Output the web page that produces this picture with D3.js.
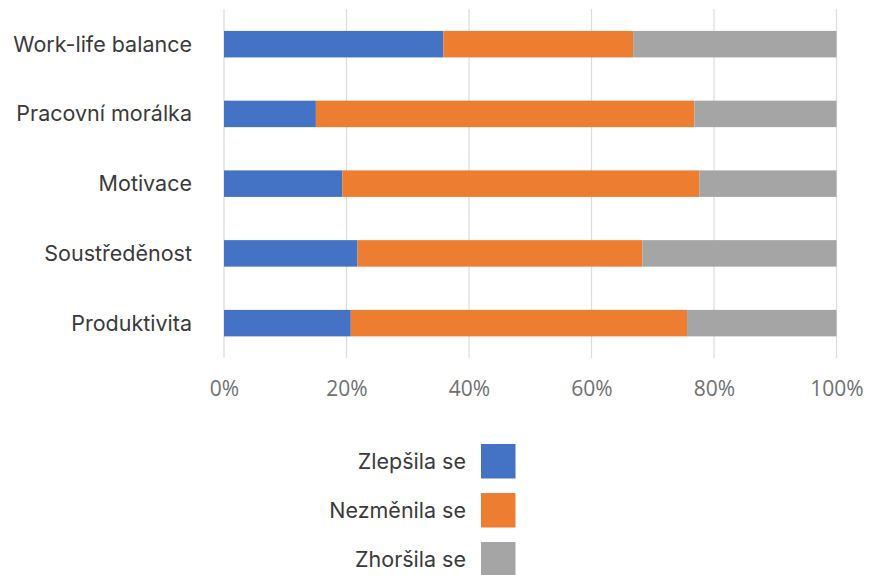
<!DOCTYPE html>
<html>
<head>
<meta charset="utf-8">
<script src="https://cdn.jsdelivr.net/npm/d3@7"></script>
<style>
  html, body { margin: 0; padding: 0; background: #fff; }
  svg { display: block; }
</style>
</head>
<body>
<svg id="chart" width="869" height="575"></svg>
<script>
// Categories, top to bottom
const categories = ["Work-life balance", "Pracovní morálka", "Motivace", "Soustředěnost", "Produktivita"];
// Series (percent of respondents)
const seriesNames = ["Zlepšila se", "Nezměnila se", "Zhoršila se"];
const improved  = [35.8, 15.0, 19.3, 21.8, 20.7];
const unchanged = [31.0, 61.8, 58.3, 46.5, 54.9];
const worsened  = [33.2, 23.2, 22.4, 31.7, 24.4];
const seriesColors = ["#4472C4", "#ED7D31", "#A5A5A5"];
const tickValues = [0, 20, 40, 60, 80, 100];

const svg = d3.select("#chart");

const x = d3.scaleLinear().domain([0, 100]).range([224, 836.5]);
const y = d3.scaleBand().domain(categories).range([9.3, 358]).paddingInner(0.62).paddingOuter(0.31);

// Vertical gridlines
svg.append("g").selectAll("line").data(tickValues).join("line")
  .attr("x1", d => x(d)).attr("x2", d => x(d))
  .attr("y1", 9).attr("y2", 358)
  .attr("stroke", "#dcdcdc").attr("stroke-width", 1.2);

// Stacked bars
const rows = categories.map((c, i) => ({ cat: c, "Zlepšila se": improved[i], "Nezměnila se": unchanged[i], "Zhoršila se": worsened[i] }));
const stacked = d3.stack().keys(seriesNames)(rows);
const color = d3.scaleOrdinal().domain(seriesNames).range(seriesColors);

svg.append("g").selectAll("g").data(stacked).join("g")
  .attr("fill", d => color(d.key))
  .selectAll("rect").data(d => d).join("rect")
  .attr("x", d => x(d[0]))
  .attr("width", d => x(d[1]) - x(d[0]))
  .attr("y", d => y(d.data.cat))
  .attr("height", y.bandwidth());

// Category labels
svg.append("g").selectAll("text").data(categories).join("text")
  .attr("x", 192)
  .attr("y", d => y(d) + y.bandwidth() / 2)
  .attr("dy", "0.35em")
  .attr("text-anchor", "end")
  .attr("font-family", "Inter, 'Noto Sans', sans-serif")
  .attr("font-size", 21.5)
  .attr("fill", "#3a3a3a")
  .text(d => d);

// Percentage axis labels
const xAxis = d3.axisBottom(x).tickValues(tickValues).tickFormat(d => d + "%").tickSize(0).tickPadding(0);
const ax = svg.append("g").attr("transform", "translate(0,389)").call(xAxis);
ax.select(".domain").remove();
ax.selectAll("text")
  .attr("dy", "0.35em")
  .attr("font-family", "'Open Sans', sans-serif")
  .attr("font-size", 21)
  .attr("fill", "#707070");

// Legend
const legend = svg.append("g").selectAll("g").data(seriesNames).join("g")
  .attr("transform", (d, i) => `translate(0,${444 + i * 49})`);
legend.append("rect")
  .attr("x", 481).attr("y", 0).attr("width", 34.5).attr("height", 34.5)
  .attr("fill", d => color(d));
legend.append("text")
  .attr("x", 466).attr("y", 17.5).attr("dy", "0.35em")
  .attr("text-anchor", "end")
  .attr("font-family", "Inter, 'Noto Sans', sans-serif")
  .attr("font-size", 21.5)
  .attr("fill", "#3a3a3a")
  .text(d => d);
</script>
</body>
</html>
